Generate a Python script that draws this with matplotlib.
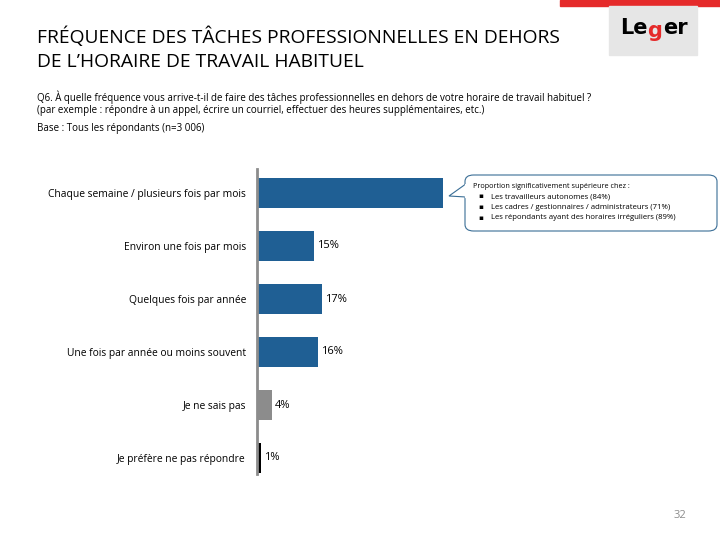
import matplotlib.pyplot as plt
from matplotlib.patches import FancyBboxPatch, Polygon, Rectangle

plt.rcParams['font.family'] = ['Open Sans', 'DejaVu Sans']

# ----------------------------
# DATA
# ----------------------------
categories = [
    "Chaque semaine / plusieurs fois par mois",
    "Environ une fois par mois",
    "Quelques fois par année",
    "Une fois par année ou moins souvent",
    "Je ne sais pas",
    "Je préfère ne pas répondre",
]
values = [49, 15, 17, 16, 4, 1]
value_labels = ["", "15%", "17%", "16%", "4%", "1%"]
bar_colors = ["#1F5F94", "#1F5F94", "#1F5F94", "#1F5F94", "#8C8C8C", "#000000"]

callout_title = "Proportion significativement supérieure chez :"
callout_items = [
    "Les travailleurs autonomes (84%)",
    "Les cadres / gestionnaires / administrateurs (71%)",
    "Les répondants ayant des horaires irréguliers (89%)",
]

W, H = 720, 540


def fx(px):
    return px / W


def fy(py):
    return 1 - py / H


fig = plt.figure(figsize=(7.2, 5.4), dpi=100)

# ----------------------------
# HEADER
# ----------------------------
fig.text(fx(37), fy(37), "FRÉQUENCE DES TÂCHES PROFESSIONNELLES EN DEHORS",
         fontsize=13.9, va='center', ha='left')
fig.text(fx(37), fy(62), "DE L\u2019HORAIRE DE TRAVAIL HABITUEL",
         fontsize=13.9, va='center', ha='left')

fig.text(fx(37), fy(97),
         "Q6. À quelle fréquence vous arrive-t-il de faire des tâches professionnelles "
         "en dehors de votre horaire de travail habituel ?",
         fontsize=7.0, va='center', ha='left')
fig.text(fx(37), fy(111),
         "(par exemple : répondre à un appel, écrire un courriel, effectuer des heures "
         "supplémentaires, etc.)",
         fontsize=7.0, va='center', ha='left')
fig.text(fx(37), fy(128), "Base : Tous les répondants (n=3 006)",
         fontsize=7.0, va='center', ha='left')

# red strip + logo
fig.patches.append(Rectangle((fx(560), fy(6)), fx(160), 6 / H,
                             transform=fig.transFigure, color="#E52A2A", zorder=1))
fig.patches.append(Rectangle((fx(609), fy(55)), fx(88), 49 / H,
                             transform=fig.transFigure, color="#E6E6E6", zorder=1))
fig.text(fx(633.5), fy(28), "Le", fontsize=15, fontweight='bold', ha='center',
         va='center', family=['DejaVu Sans'])
fig.text(fx(655), fy(31), "g", fontsize=15, fontweight='bold', ha='center',
         va='center', color="#E52A2A", family=['DejaVu Sans'])
fig.text(fx(675.5), fy(28), "er", fontsize=15, fontweight='bold', ha='center',
         va='center', family=['DejaVu Sans'])

fig.text(fx(680), fy(515), "32", fontsize=8, color="#8C8C8C",
         ha='center', va='center')

# ----------------------------
# BARS
# ----------------------------
px_per_pct = 3.8
ax_left, ax_width = 257, 420
ax_top, ax_bottom = 166.5, 484.5
ax = fig.add_axes([fx(ax_left), fy(ax_bottom), fx(ax_width),
                   (ax_bottom - ax_top) / H])

ypos = list(range(len(categories)))
ax.barh(ypos, values, height=0.57, color=bar_colors, zorder=2)
ax.set_xlim(0, ax_width / px_per_pct)
ax.set_ylim(len(categories) - 0.5, -0.5)

for y, v, lab in zip(ypos, values, value_labels):
    if lab:
        ax.text(v + 0.8, y, lab, fontsize=8, va='center', ha='left')

ax.set_yticks(ypos)
ax.set_yticklabels(categories, fontsize=7.4)
ax.tick_params(axis='y', length=0, pad=8)
ax.set_xticks([])
for s in ['top', 'right', 'bottom']:
    ax.spines[s].set_visible(False)
ax.spines['left'].set_color("#8C8C8C")
ax.spines['left'].set_linewidth(2)
ax.spines['left'].set_bounds(5.3, -0.45)

# ----------------------------
# CALLOUT
# ----------------------------
box = FancyBboxPatch((fx(465), fy(231)), fx(252), 56 / H,
                     boxstyle="round,pad=0,rounding_size=0.012",
                     transform=fig.transFigure, facecolor="white",
                     edgecolor="#3A6E96", linewidth=0.8, zorder=5)
fig.patches.append(box)
pointer = Polygon([(fx(465.8), fy(184)), (fx(449), fy(196)), (fx(465.8), fy(197))],
                  closed=False, transform=fig.transFigure, facecolor="white",
                  edgecolor="#3A6E96", linewidth=0.8, zorder=6)
fig.patches.append(pointer)
fig.patches.append(Rectangle((fx(465), fy(196.5)), fx(1.8), 12 / H,
                             transform=fig.transFigure, color="white", zorder=7))

fig.text(fx(473), fy(186), callout_title, fontsize=5.2, va='center', ha='left',
         zorder=8)
for i, item in enumerate(callout_items):
    yy = 196.5 + i * 10.7
    fig.text(fx(478), fy(yy), "\u25aa", fontsize=5.2, va='center', ha='left',
             family=['DejaVu Sans'], zorder=8)
    fig.text(fx(491), fy(yy), item, fontsize=5.6, va='center', ha='left',
             zorder=8)

plt.savefig("out.png", dpi=100)
